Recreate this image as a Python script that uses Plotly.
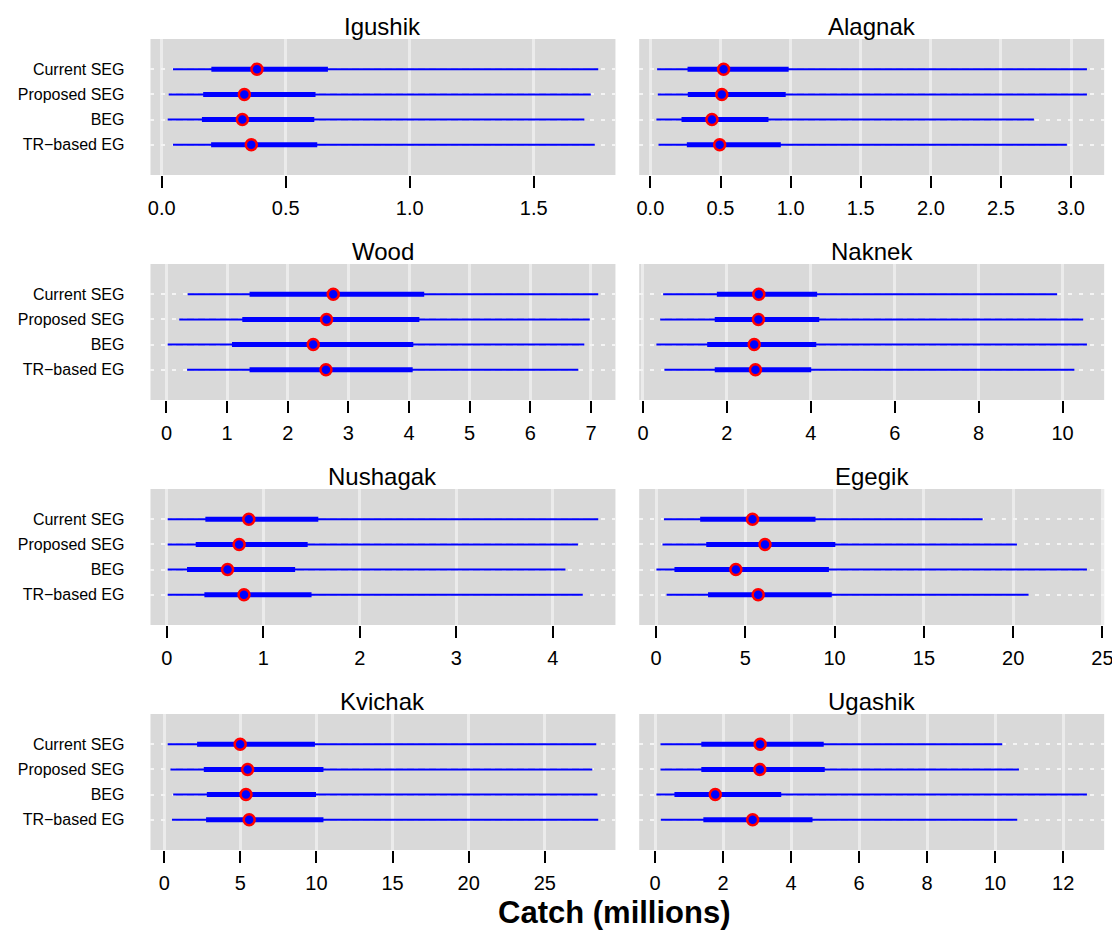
import plotly.graph_objects as go

W, H = 1120, 932

rivers = ["Igushik", "Alagnak", "Wood", "Naknek", "Nushagak", "Egegik", "Kvichak", "Ugashik"]
categories = ["Current SEG", "Proposed SEG", "BEG", "TR\u2212based EG"]

# per river: values for [Current SEG, Proposed SEG, BEG, TR-based EG]
whisker_low = [
    [0.045, 0.028, 0.024, 0.045],
    [0.048, 0.053, 0.043, 0.058],
    [0.35, 0.21, 0.02, 0.34],
    [0.48, 0.41, 0.32, 0.51],
    [0.01, 0.01, 0.01, 0.01],
    [0.44, 0.36, 0.02, 0.59],
    [0.23, 0.41, 0.59, 0.51],
    [0.16, 0.16, 0.04, 0.17],
]
box_low = [
    [0.200, 0.167, 0.162, 0.199],
    [0.265, 0.267, 0.222, 0.260],
    [1.37, 1.25, 1.08, 1.37],
    [1.76, 1.71, 1.53, 1.71],
    [0.40, 0.30, 0.21, 0.39],
    [2.47, 2.81, 1.03, 2.91],
    [2.16, 2.60, 2.80, 2.75],
    [1.36, 1.36, 0.57, 1.42],
]
median = [
    [0.384, 0.333, 0.325, 0.361],
    [0.522, 0.509, 0.439, 0.494],
    [2.75, 2.64, 2.42, 2.63],
    [2.76, 2.75, 2.65, 2.68],
    [0.85, 0.75, 0.63, 0.80],
    [5.40, 6.10, 4.47, 5.72],
    [4.99, 5.48, 5.37, 5.58],
    [3.09, 3.08, 1.77, 2.87],
]
box_high = [
    [0.670, 0.620, 0.615, 0.627],
    [0.986, 0.965, 0.842, 0.930],
    [4.25, 4.17, 4.07, 4.06],
    [4.15, 4.20, 4.13, 4.01],
    [1.57, 1.46, 1.33, 1.50],
    [8.93, 10.04, 9.68, 9.84],
    [9.90, 10.46, 9.97, 10.46],
    [4.96, 4.99, 3.71, 4.63],
]
whisker_high = [
    [1.760, 1.730, 1.704, 1.746],
    [3.113, 3.113, 2.735, 2.970],
    [7.12, 6.98, 6.89, 6.79],
    [9.87, 10.49, 10.58, 10.28],
    [4.47, 4.26, 4.13, 4.31],
    [18.29, 20.21, 24.13, 20.86],
    [28.38, 28.12, 28.46, 28.51],
    [10.21, 10.70, 12.70, 10.65],
]
tick_step = [0.5, 0.5, 1, 2, 1, 5, 5, 2]
tick_fmt = [".1f", ".1f", "d", "d", "d", "d", "d", "d"]

ypos = [4, 3, 2, 1]

# layout geometry (pixels)
col_px = [(141, 611), (635, 1105)]
row_px = [(31, 167), (256, 392), (481, 617), (706, 842)]

def px_x(v):
    return v / W

def px_y(v):
    return 1 - v / H

FONT = "Liberation Sans"

fig = go.Figure()
annotations = []

for i, name in enumerate(rivers):
    r, c = divmod(i, 2)
    ax = "" if i == 0 else str(i + 1)
    xref, yref = "x" + ax, "y" + ax

    lx, hx = [], []
    ly, hy = [], []
    for k in range(4):
        lx += [whisker_low[i][k], whisker_high[i][k], None]
        ly += [ypos[k], ypos[k], None]
        hx += [box_low[i][k], box_high[i][k], None]
        hy += [ypos[k], ypos[k], None]

    fig.add_trace(go.Scatter(x=lx, y=ly, mode="lines", line=dict(color="#0000ff", width=2),
                             xaxis=xref, yaxis=yref, showlegend=False, hoverinfo="skip"))
    fig.add_trace(go.Scatter(x=hx, y=hy, mode="lines", line=dict(color="#0000ff", width=5),
                             xaxis=xref, yaxis=yref, showlegend=False, hoverinfo="skip"))
    fig.add_trace(go.Scatter(x=median[i], y=ypos, mode="markers",
                             marker=dict(color="#0000ff", size=11, line=dict(color="#ff0000", width=2.5)),
                             xaxis=xref, yaxis=yref, showlegend=False))

    lo = min(whisker_low[i])
    hi = max(whisker_high[i])
    pad = 0.04 * (hi - lo)
    x0, x1 = col_px[c]
    y0, y1 = row_px[r]

    fig.layout["xaxis" + ax] = dict(
        domain=[px_x(x0), px_x(x1)], anchor=yref, range=[lo - pad, hi + pad],
        tick0=0, dtick=tick_step[i], tickformat=tick_fmt[i],
        showline=False, zeroline=False, ticks="outside", ticklen=12, tickwidth=1.5,
        tickcolor="black", showgrid=True, gridcolor="#ebebeb", gridwidth=3,
        tickfont=dict(family=FONT, size=20, color="black"),
        ticklabelstandoff=3, fixedrange=True,
    )
    fig.layout["yaxis" + ax] = dict(
        domain=[px_y(y1), px_y(y0)], anchor=xref, range=[-0.2, 5.2],
        tickvals=ypos, ticktext=categories, showticklabels=(c == 0),
        ticks="", showline=False, zeroline=False, showgrid=True,
        gridcolor="#f4f4f4", gridwidth=2, griddash="4px,7px",
        tickfont=dict(family=FONT, size=16, color="black"),
        ticklabelstandoff=25, fixedrange=True,
    )
    annotations.append(dict(
        text=name, x=(px_x(x0) + px_x(x1)) / 2, y=px_y(y0 - 13), xref="paper", yref="paper",
        xanchor="center", yanchor="middle", showarrow=False,
        font=dict(family=FONT, size=24, color="black"),
    ))

annotations.append(dict(
    text="<b>Catch (millions)</b>", x=px_x(610), y=px_y(904), xref="paper", yref="paper",
    xanchor="center", yanchor="middle", showarrow=False,
    font=dict(family=FONT, size=31, color="black"),
))

fig.update_layout(
    width=W, height=H, margin=dict(l=0, r=0, t=0, b=0),
    paper_bgcolor="white", plot_bgcolor="#d9d9d9",
    annotations=annotations, showlegend=False,
)

fig.write_html("out.html")
